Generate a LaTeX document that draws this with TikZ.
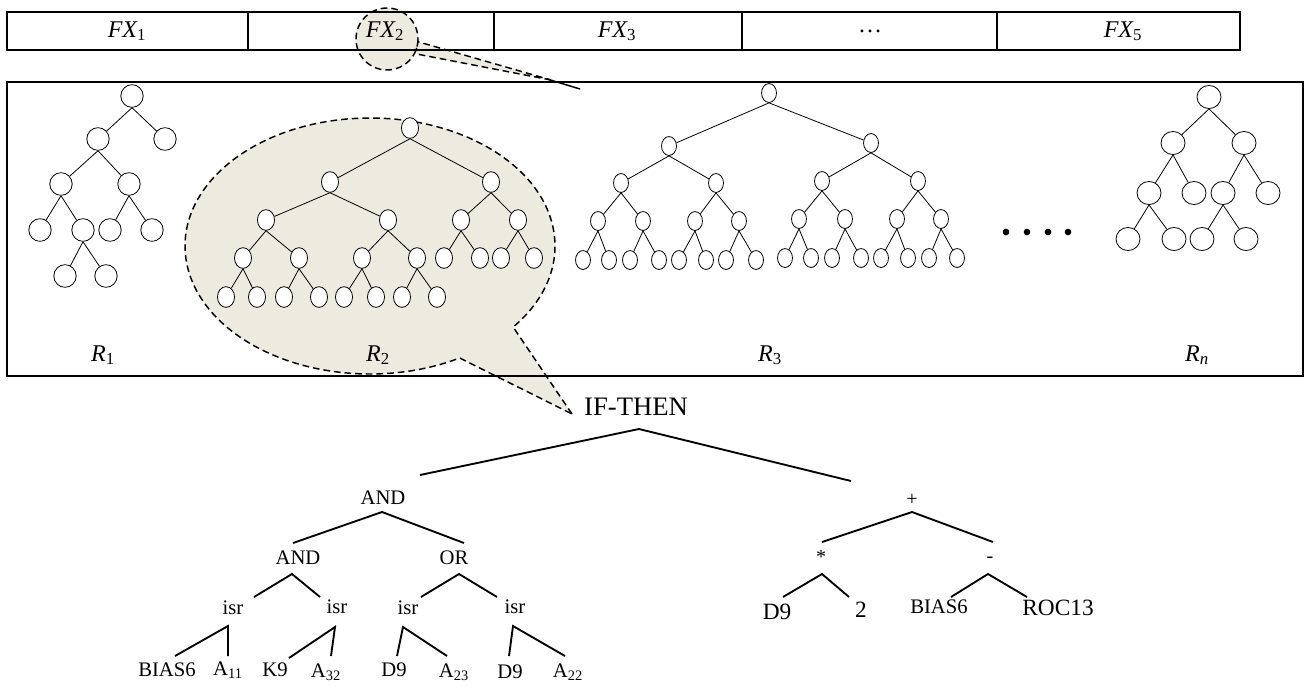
\documentclass[tikz,border=0pt]{standalone}
\usepackage{fontspec}
\setmainfont{Liberation Serif}
\usetikzlibrary{positioning,shapes.geometric,calc}
\definecolor{bubblefill}{RGB}{237,235,224}
\tikzset{
ovalA/.style={draw, ellipse, fill=white, inner sep=0pt, minimum width=16.8pt, minimum height=17pt, line width=0.6pt},
ovalB/.style={draw, ellipse, fill=white, inner sep=0pt, minimum width=12.8pt, minimum height=15.5pt, line width=0.6pt},
ovalC/.style={draw, ellipse, fill=white, inner sep=0pt, minimum width=11.2pt, minimum height=14.2pt, line width=0.6pt},
ovalD/.style={draw, ellipse, fill=white, inner sep=0pt, minimum width=18pt, minimum height=17.3pt, line width=0.6pt},
twig/.style={draw, line width=0.6pt},
branch/.style={draw, line width=1.4pt},
bubble/.style={draw, fill=bubblefill, line width=1.1pt, dash pattern=on 5pt off 3pt},
fxlab/.style={inner sep=0pt, font=\fontsize{18}{21}\selectfont},
iflab/.style={inner sep=0pt, font=\fontsize{20}{24}\selectfont},
oplab/.style={inner sep=0pt, font=\fontsize{15.5}{18}\selectfont},
symlab/.style={inner sep=0pt, font=\fontsize{15}{18}\selectfont},
bigleaf/.style={inner sep=0pt, font=\fontsize{17.5}{20}\selectfont}
}

\begin{document}
\begin{tikzpicture}[x=0.75pt,y=0.75pt,yscale=-1,xscale=1]
\useasboundingbox (0,0) rectangle (1308,686);

% callouts
\draw [bubble] (551,80) -- ($(387,39)+(28:31)$) arc [start angle=28, end angle=-355, radius=31] -- cycle ;
\draw [line width=1.1pt] (547,79) -- (580,89) ;
\draw [bubble] (572,414) -- ($(370,246)+(39.3:185 and 128)$) arc [start angle=39.3, end angle=-299, x radius=185, y radius=128] -- cycle ;

% feature table
\draw [line width=1.1pt] (7,12) rectangle (248,50) ;
\draw [line width=1.1pt] (248,12) rectangle (494,50) ;
\draw [line width=1.1pt] (494,12) rectangle (742,50) ;
\draw [line width=1.1pt] (742,12) rectangle (997,50) ;
\draw [line width=1.1pt] (997,12) rectangle (1240,50) ;
\node [fxlab] (fx1) at (127,31) {{\itshape FX}\textsubscript{1}};
\node [fxlab] (fx2) at (385,31) {{\itshape FX}\textsubscript{2}};
\node [fxlab] (fx3) at (617,31) {{\itshape FX}\textsubscript{3}};
\node [fxlab] (fx4) at (870,31) {…};
\node [fxlab] (fx5) at (1123,31) {{\itshape FX}\textsubscript{5}};

% rule box
\draw [line width=1.1pt] (7,82) rectangle (1303,376) ;

% R1
\node [ovalA] (a1) at (132,96) {};
\node [ovalA] (a2) at (98,139) {};
\node [ovalA] (a3) at (165,139) {};
\node [ovalA] (a4) at (61,184) {};
\node [ovalA] (a5) at (129,184) {};
\node [ovalA] (a8) at (40,230) {};
\node [ovalA] (a9) at (83,230) {};
\node [ovalA] (a10) at (110,230) {};
\node [ovalA] (a11) at (152,230) {};
\node [ovalA] (a18) at (65,276) {};
\node [ovalA] (a19) at (106,276) {};
\draw [twig] (a1.south) -- (a2) (a1.south) -- (a3) (a2.south) -- (a4) (a2.south) -- (a5) ;
\draw [twig] (a4.south) -- (a8) (a4.south) -- (a9) (a5.south) -- (a10) (a5.south) -- (a11) ;
\draw [twig] (a9.south) -- (a18) (a9.south) -- (a19) ;

% R2
\node [ovalB] (q1) at (410,128) {};
\node [ovalB] (q2) at (330,182) {};
\node [ovalB] (q3) at (491,182) {};
\node [ovalB] (q4) at (266,220) {};
\node [ovalB] (q5) at (388,220) {};
\node [ovalB] (q6) at (461,220) {};
\node [ovalB] (q7) at (518,220) {};
\node [ovalB] (q8) at (243,258) {};
\node [ovalB] (q9) at (299,258) {};
\node [ovalB] (q10) at (362,258) {};
\node [ovalB] (q11) at (417,258) {};
\node [ovalB] (q12) at (444,258) {};
\node [ovalB] (q13) at (480,258) {};
\node [ovalB] (q14) at (501,258) {};
\node [ovalB] (q15) at (534,258) {};
\node [ovalB] (q16) at (226,297) {};
\node [ovalB] (q17) at (257,297) {};
\node [ovalB] (q18) at (284,297) {};
\node [ovalB] (q19) at (319,297) {};
\node [ovalB] (q20) at (344,297) {};
\node [ovalB] (q21) at (376,297) {};
\node [ovalB] (q22) at (402,297) {};
\node [ovalB] (q23) at (437,297) {};
\draw [twig] (q1.south) -- (q2) (q1.south) -- (q3) (q2.south) -- (q4) (q2.south) -- (q5) (q3.south) -- (q6) (q3.south) -- (q7) ;
\draw [twig] (q4.south) -- (q8) (q4.south) -- (q9) (q5.south) -- (q10) (q5.south) -- (q11) ;
\draw [twig] (q6.south) -- (q12) (q6.south) -- (q13) (q7.south) -- (q14) (q7.south) -- (q15) ;
\draw [twig] (q8.south) -- (q16) (q8.south) -- (q17) (q9.south) -- (q18) (q9.south) -- (q19) ;
\draw [twig] (q10.south) -- (q20) (q10.south) -- (q21) (q11.south) -- (q22) (q11.south) -- (q23) ;

% R3
\node [ovalC] (s1) at (769,93) {};
\node [ovalC] (s2) at (669,146) {};
\node [ovalC] (s3) at (871,143) {};
\node [ovalC] (s4) at (621,183) {};
\node [ovalC] (s5) at (716,183) {};
\node [ovalC] (s6) at (822,181) {};
\node [ovalC] (s7) at (918,181) {};
\node [ovalC] (s8) at (598,221) {};
\node [ovalC] (s9) at (643,221) {};
\node [ovalC] (s10) at (695,221) {};
\node [ovalC] (s11) at (739,221) {};
\node [ovalC] (s12) at (799,219) {};
\node [ovalC] (s13) at (845,219) {};
\node [ovalC] (s14) at (897,219) {};
\node [ovalC] (s15) at (941,219) {};
\node [ovalC] (s16) at (583,260) {};
\node [ovalC] (s17) at (609,260) {};
\node [ovalC] (s18) at (630,260) {};
\node [ovalC] (s19) at (659,260) {};
\node [ovalC] (s20) at (679,260) {};
\node [ovalC] (s21) at (706,260) {};
\node [ovalC] (s22) at (726,260) {};
\node [ovalC] (s23) at (756,260) {};
\node [ovalC] (s24) at (785,258) {};
\node [ovalC] (s25) at (811,258) {};
\node [ovalC] (s26) at (832,258) {};
\node [ovalC] (s27) at (861,258) {};
\node [ovalC] (s28) at (881,258) {};
\node [ovalC] (s29) at (908,258) {};
\node [ovalC] (s30) at (929,258) {};
\node [ovalC] (s31) at (957,258) {};
\draw [twig] (s1.south) -- (s2) (s1.south) -- (s3) (s2.south) -- (s4) (s2.south) -- (s5) (s3.south) -- (s6) (s3.south) -- (s7) ;
\draw [twig] (s4.south) -- (s8) (s4.south) -- (s9) (s5.south) -- (s10) (s5.south) -- (s11) ;
\draw [twig] (s6.south) -- (s12) (s6.south) -- (s13) (s7.south) -- (s14) (s7.south) -- (s15) ;
\draw [twig] (s8.south) -- (s16) (s8.south) -- (s17) (s9.south) -- (s18) (s9.south) -- (s19) ;
\draw [twig] (s10.south) -- (s20) (s10.south) -- (s21) (s11.south) -- (s22) (s11.south) -- (s23) ;
\draw [twig] (s12.south) -- (s24) (s12.south) -- (s25) (s13.south) -- (s26) (s13.south) -- (s27) ;
\draw [twig] (s14.south) -- (s28) (s14.south) -- (s29) (s15.south) -- (s30) (s15.south) -- (s31) ;

% dots
\fill (1006,232) circle [radius=3.3] ;
\fill (1027,232) circle [radius=3.3] ;
\fill (1048,232) circle [radius=3.3] ;
\fill (1068,232) circle [radius=3.3] ;

% Rn
\node [ovalD] (d1) at (1209,97) {};
\node [ovalD] (d2) at (1173,143) {};
\node [ovalD] (d3) at (1244,143) {};
\node [ovalD] (d4) at (1149,193) {};
\node [ovalD] (d5) at (1194,193) {};
\node [ovalD] (d6) at (1223,193) {};
\node [ovalD] (d7) at (1268,193) {};
\node [ovalD] (d8) at (1128,239) {};
\node [ovalD] (d9) at (1174,239) {};
\node [ovalD] (d12) at (1202,239) {};
\node [ovalD] (d13) at (1246,239) {};
\draw [twig] (d1.south) -- (d2) (d1.south) -- (d3) (d2.south) -- (d4) (d2.south) -- (d5) (d3.south) -- (d6) (d3.south) -- (d7) ;
\draw [twig] (d4.south) -- (d8) (d4.south) -- (d9) (d6.south) -- (d12) (d6.south) -- (d13) ;

\node [fxlab] (r1) at (103,355) {{\itshape R}\textsubscript{1}};
\node [fxlab] (r2) at (378,355) {{\itshape R}\textsubscript{2}};
\node [fxlab] (r3) at (770,355) {{\itshape R}\textsubscript{3}};
\node [fxlab] (rn) at (1197,355) {{\itshape R}\textsubscript{\itshape n}};

% expanded rule
\node [iflab] (ift) at (636,407) {IF-THEN};
\node [oplab] (and1) at (383,498) {AND};
\node [symlab] (plus) at (912,500) {+};
\node [oplab] (and2) at (298,558) {AND};
\node [oplab] (or) at (454,558) {OR};
\node [symlab] (star) at (821,557) {*};
\node [symlab] (minus) at (990,560) {-};
\node [oplab] (isra) at (233,608) {isr};
\node [oplab] (isrb) at (337,607) {isr};
\node [oplab] (isrc) at (408,608) {isr};
\node [oplab] (isrd) at (515,607) {isr};
\node [oplab] (biasa) at (167,670) {BIAS6};
\node [oplab] (a11) at (228,670) {A\textsubscript{11}};
\node [oplab] (k9) at (275,670) {K9};
\node [oplab] (a32) at (326,672) {A\textsubscript{32}};
\node [oplab] (d9a) at (394,670) {D9};
\node [oplab] (a23) at (454,672) {A\textsubscript{23}};
\node [oplab] (d9b) at (510,672) {D9};
\node [oplab] (a22) at (568,672) {A\textsubscript{22}};
\node [bigleaf] (d9c) at (777,612) {D9};
\node [bigleaf] (two) at (861,610) {2};
\node [oplab] (biasb) at (939,607) {BIAS6};
\node [bigleaf] (roc) at (1058,608) {ROC13};

\draw [branch] ($(and1)+(37,-23)$) -- ($(ift)+(3,22)$) -- ($(plus)+(-61,-19)$) ;
\draw [branch] ($(and2)+(-5,-15)$) -- ($(and1)+(-1,14)$) -- ($(or)+(10,-15)$) ;
\draw [branch] ($(isra)+(21,-11)$) -- ($(and2)+(-6,16)$) -- ($(isrb)+(-17,-10)$) ;
\draw [branch] ($(isrc)+(13,-11)$) -- ($(or)+(5,16)$) -- ($(isrd)+(-18,-10)$) ;
\draw [branch] ($(biasa)+(8,-14)$) -- ($(isra)+(-5,18)$) -- ($(a11)+(0,-14)$) ;
\draw [branch] ($(k9)+(14,-12)$) -- ($(isrb)+(-2,20)$) -- ($(a32)+(5,-16)$) ;
\draw [branch] ($(d9a)+(3,-14)$) -- ($(isrc)+(-5,19)$) -- ($(a23)+(-7,-16)$) ;
\draw [branch] ($(d9b)+(-1,-16)$) -- ($(isrd)+(-2,19)$) -- ($(a22)+(-3,-16)$) ;
\draw [branch] ($(star)+(1,-15)$) -- ($(plus)+(0,12)$) -- ($(minus)+(3,-18)$) ;
\draw [branch] ($(d9c)+(6,-15)$) -- ($(star)+(1,17)$) -- ($(two)+(-12,-13)$) ;
\draw [branch] ($(biasb)+(12,-10)$) -- ($(minus)+(-2,14)$) -- ($(roc)+(-31,-11)$) ;

\end{tikzpicture}
\end{document}
